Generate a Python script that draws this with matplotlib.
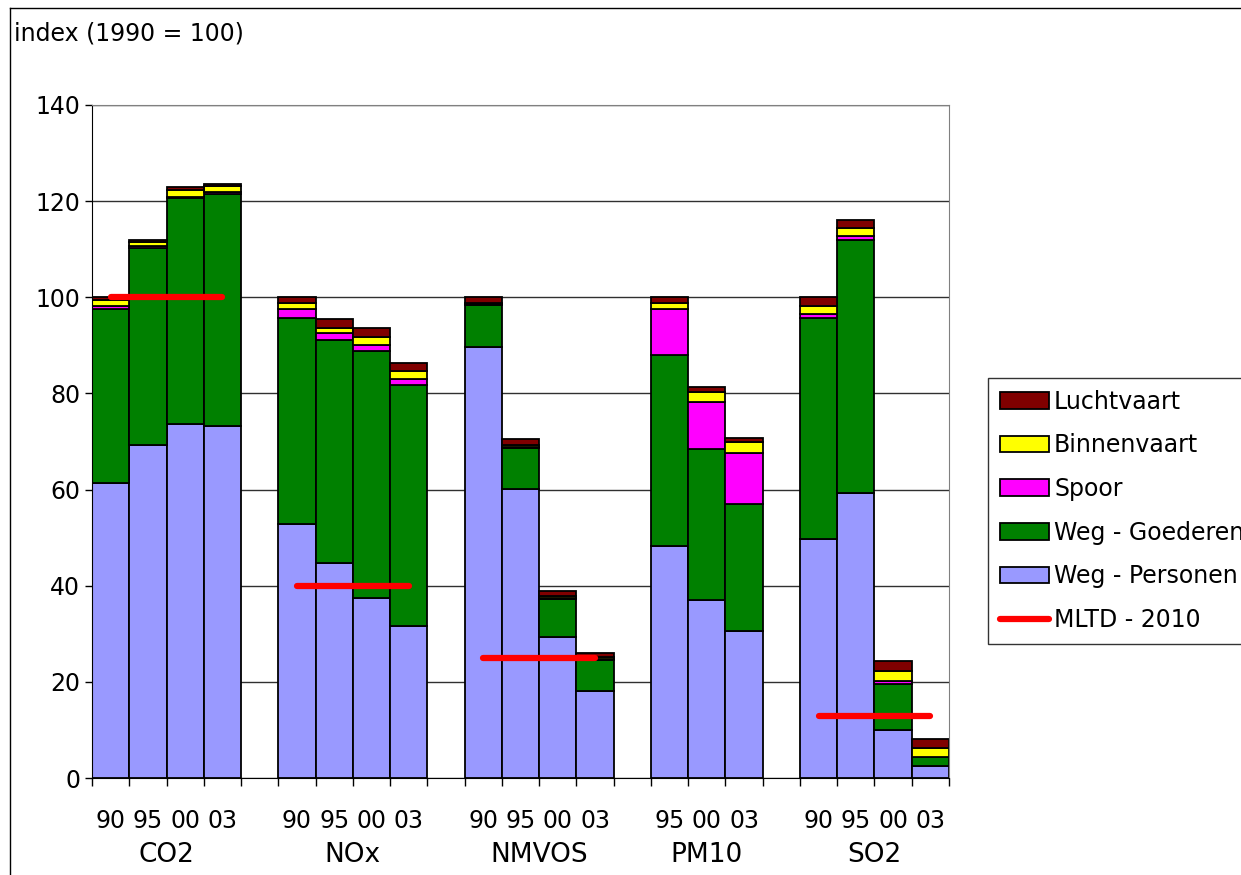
import numpy as np
import matplotlib.pyplot as plt
from matplotlib.lines import Line2D
from matplotlib.patches import Patch

# Stoffen en jaren per groep
groepen = ['CO2', 'NOx', 'NMVOS', 'PM10', 'SO2']
jaren = [['90', '95', '00', '03'],
         ['90', '95', '00', '03'],
         ['90', '95', '00', '03'],
         ['95', '00', '03'],
         ['90', '95', '00', '03']]

# Bijdragen per bron (index 1990 = 100), één waarde per staaf
weg_personen = [61.3, 69.3, 73.6, 73.2,
                52.8, 44.7, 37.4, 31.6,
                89.7, 60.1, 29.4, 18.1,
                48.3, 37.0, 30.6,
                49.7, 59.3, 10.0, 2.4]
weg_goederen = [36.2, 40.9, 47.0, 48.3,
                42.8, 46.5, 51.4, 50.2,
                8.7, 8.5, 7.8, 6.5,
                39.7, 31.4, 26.4,
                45.9, 52.6, 9.6, 1.9]
spoor = [0.7, 0.4, 0.3, 0.4,
         1.9, 1.4, 1.2, 1.3,
         0.3, 0.3, 0.2, 0.2,
         9.6, 9.8, 10.6,
         1.0, 0.8, 0.6, 0.1]
binnenvaart = [1.2, 1.0, 1.5, 1.2,
               1.3, 1.0, 1.8, 1.6,
               0.2, 0.4, 0.4, 0.3,
               1.3, 2.1, 2.2,
               1.6, 1.8, 2.0, 1.8]
luchtvaart = [0.6, 0.4, 0.6, 0.5,
              1.2, 1.9, 1.8, 1.6,
              1.1, 1.2, 1.0, 0.9,
              1.1, 1.1, 1.0,
              1.8, 1.5, 2.2, 1.9]

# Doelstelling MLTD 2010 per stof (PM10 heeft geen doel)
mltd_2010 = [100, 40, 25, None, 13]

bronnen = [('Weg - Personen', weg_personen, '#9999FF'),
           ('Weg - Goederen', weg_goederen, '#008000'),
           ('Spoor', spoor, '#FF00FF'),
           ('Binnenvaart', binnenvaart, '#FFFF00'),
           ('Luchtvaart', luchtvaart, '#800000')]

# posities: staven tegen elkaar, één lege plek tussen de groepen
posities = []
groep_pos = []
p = 0
for jr in jaren:
    pos = list(range(p, p + len(jr)))
    posities += pos
    groep_pos.append(pos)
    p += len(jr) + 1
posities = np.array(posities)
n_slots = p - 1

fig = plt.figure(figsize=(12.41, 8.75), dpi=100)
ax = fig.add_axes([92 / 1241, 97 / 875, 857 / 1241, 673 / 875])

bodem = np.zeros(len(posities))
for naam, waarden, kleur in bronnen:
    ax.bar(posities, waarden, width=1.0, bottom=bodem, color=kleur,
           edgecolor='black', linewidth=1.3, zorder=2)
    bodem += np.array(waarden)

# MLTD-lijnen over de staven van elke groep
for pos, doel in zip(groep_pos, mltd_2010):
    if doel is None:
        continue
    ax.plot([pos[0], pos[-1]], [doel, doel], color='#FF0000', lw=4.5,
            solid_capstyle='round', zorder=3)

ax.set_xlim(-0.5, n_slots - 0.5)
ax.set_ylim(0, 140)
ax.set_yticks(np.arange(0, 141, 20))
ax.yaxis.grid(True, color='#303030', lw=1)
ax.set_axisbelow(True)
ax.tick_params(axis='y', labelsize=17, length=5, width=1, direction='out')

# streepjes op de categoriegrenzen, jaartallen in het midden van de staven
ax.set_xticks(np.arange(-0.5, n_slots, 1.0))
ax.set_xticklabels([])
ax.tick_params(axis='x', which='major', length=6, width=1, direction='out')
ax.set_xticks(posities, minor=True)
ax.set_xticklabels([j for jr in jaren for j in jr], minor=True)
ax.tick_params(axis='x', which='minor', length=0, labelsize=17, pad=22)

for pos, naam in zip(groep_pos, groepen):
    ax.text(np.mean(pos), -0.115, naam, transform=ax.get_xaxis_transform(),
            ha='center', va='center', fontsize=19)

for s in ['left', 'bottom']:
    ax.spines[s].set_color('black')
for s in ['top', 'right']:
    ax.spines[s].set_color('#808080')

fig.text(14 / 1241, 1 - 33 / 875, 'index (1990 = 100)', fontsize=17,
         ha='left', va='center')

# kader rond de grafiek
fig.add_artist(Line2D([10 / 1241, 10 / 1241], [0, 1 - 8 / 875], color='black', lw=1))
fig.add_artist(Line2D([10 / 1241, 1], [1 - 8 / 875, 1 - 8 / 875], color='black', lw=1))

handles = [Patch(facecolor=k, edgecolor='black', lw=1.3, label=n) for n, w, k in bronnen[::-1]]
handles.append(Line2D([], [], color='#FF0000', lw=4.5, solid_capstyle='round', label='MLTD - 2010'))
leg = fig.legend(handles=handles, loc='upper left', bbox_to_anchor=(988 / 1241, 1 - 378 / 875),
                 borderaxespad=0, fontsize=17, frameon=True, fancybox=False,
                 handlelength=2.1, handleheight=0.7, handletextpad=0.2,
                 labelspacing=0.83, borderpad=0.5)
leg.get_frame().set_edgecolor('black')
leg.get_frame().set_linewidth(1)

fig.savefig('out.png', dpi=100)
